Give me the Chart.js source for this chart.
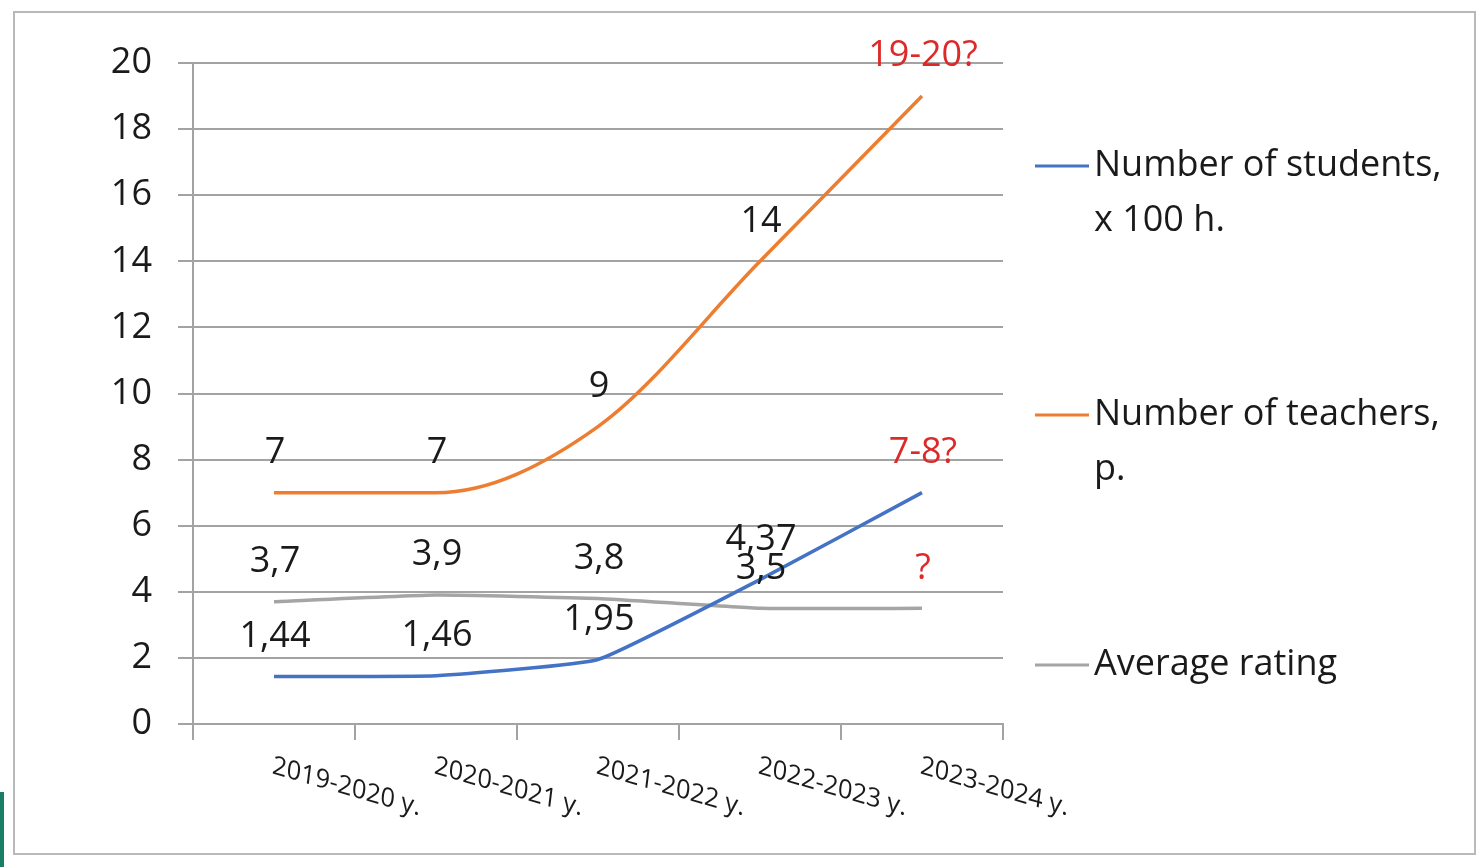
<!DOCTYPE html>
<html>
<head>
<meta charset="utf-8">
<script src="https://cdn.jsdelivr.net/npm/chart.js@4"></script>
<style>
  body { margin: 0; background: #fff; width: 1483px; height: 867px; overflow: hidden; position: relative; }
  #frame { position: absolute; left: 13px; top: 11px; width: 1459px; height: 840px; border: 2px solid #b9b9b9; }
  #edge { position: absolute; left: 0; top: 792px; width: 4px; height: 75px; background: #1a7d66; }
  #myChart { position: absolute; left: 0; top: 0; }
</style>
</head>
<body>
<div id="frame"></div>
<div id="edge"></div>
<canvas id="myChart" width="1483" height="867"></canvas>
<script>
const categories = ['2019-2020 y.', '2020-2021 y.', '2021-2022 y.', '2022-2023 y.', '2023-2024 y.'];
const students = [1.44, 1.46, 1.95, 4.37, 7];
const teachers = [7, 7, 9, 14, 19];
const rating = [3.7, 3.9, 3.8, 3.5, 3.5];
const studentLabels = ['1,44', '1,46', '1,95', '4,37', '7-8?'];
const teacherLabels = ['7', '7', '9', '14', '19-20?'];
const ratingLabels = ['3,7', '3,9', '3,8', '3,5', '?'];
const forecastIndex = 4;
const legendLines = [['Number of students,', 'x 100 h.'], ['Number of teachers,', 'p.'], ['Average rating']];

const FONT = '"Open Sans", Lato, sans-serif';
const TEXT = '#1a1a1a';
const RED = '#dc2a2a';
const GRID = '#a3a3a3';

// data labels above points, category labels and the side legend
const extras = {
    id: 'extras',
    afterDatasetsDraw(chart) {
        const ctx = chart.ctx;
        const area = chart.chartArea;
        ctx.save();
        ctx.font = '36px ' + FONT;
        ctx.textAlign = 'center';
        ctx.textBaseline = 'middle';
        chart.data.datasets.forEach((ds, d) => {
            chart.getDatasetMeta(d).data.forEach((pt, i) => {
                ctx.fillStyle = i == forecastIndex ? RED : TEXT;
                ctx.fillText(ds.pointText[i], pt.x + 1, pt.y - 40);
            });
        });

        // slanted category labels
        const xs = chart.scales.x;
        ctx.font = '26px ' + FONT;
        ctx.fillStyle = TEXT;
        ctx.textAlign = 'left';
        ctx.textBaseline = 'top';
        const t = 16 * Math.PI / 180, p = 7 * Math.PI / 180;
        categories.forEach((c, i) => {
            const x = xs.getPixelForValue(i);
            ctx.save();
            ctx.setTransform(Math.cos(t), Math.sin(t), -Math.sin(p), Math.cos(p), x, area.bottom + 29);
            ctx.fillText(c, 0, 0);
            ctx.restore();
        });

        // legend
        ctx.font = '36px ' + FONT;
        ctx.textBaseline = 'middle';
        const rows = [166, 415, 665];
        chart.data.datasets.forEach((ds, d) => {
            const y = rows[d];
            ctx.strokeStyle = ds.borderColor;
            ctx.lineWidth = 3;
            ctx.beginPath();
            ctx.moveTo(area.right + 32, y);
            ctx.lineTo(area.right + 86, y);
            ctx.stroke();
            legendLines[d].forEach((line, k) => {
                ctx.fillText(line, area.right + 91, y + k * 55);
            });
        });
        ctx.restore();
    }
};

new Chart(document.getElementById('myChart'), {
    type: 'line',
    data: {
        labels: categories,
        datasets: [{
            label: 'Number of students, x 100 h.',
            data: students,
            pointText: studentLabels,
            borderColor: '#4472c4',
        }, {
            label: 'Number of teachers, p.',
            data: teachers,
            pointText: teacherLabels,
            borderColor: '#ed7d31',
            cubicInterpolationMode: 'monotone',
        }, {
            label: 'Average rating',
            data: rating,
            pointText: ratingLabels,
            borderColor: '#a5a5a5',
        }]
    },
    options: {
        responsive: false,
        animation: false,
        devicePixelRatio: 1,
        layout: { padding: { top: 63, right: 480, left: 0, bottom: 0 } },
        elements: {
            line: { borderWidth: 3.5, tension: 0.12, fill: false },
            point: { radius: 0, hoverRadius: 0 }
        },
        plugins: {
            legend: { display: false },
            tooltip: { enabled: false }
        },
        scales: {
            x: {
                offset: true,
                grid: { offset: true, drawOnChartArea: false, color: GRID, lineWidth: 2, tickLength: 16 },
                border: { color: GRID, width: 2 },
                ticks: { display: false },
                afterFit: s => { s.height = 143; }
            },
            y: {
                min: 0,
                max: 20,
                ticks: { stepSize: 2, padding: 26, color: TEXT, font: { family: FONT, size: 36 } },
                grid: { color: GRID, lineWidth: 2, tickLength: 15 },
                border: { color: GRID, width: 2 },
                afterFit: s => { s.width = 193; }
            }
        }
    },
    plugins: [extras]
});
</script>
</body>
</html>
